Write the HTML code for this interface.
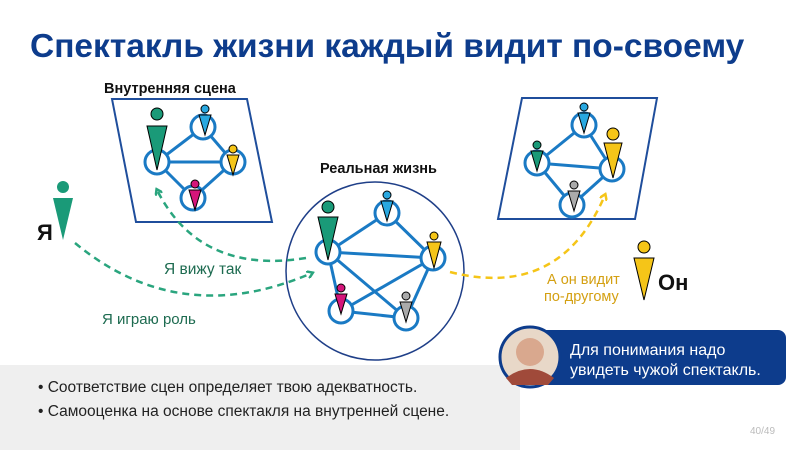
<!DOCTYPE html>
<html><head><meta charset="utf-8"><style>
body{margin:0;width:800px;height:450px;overflow:hidden;background:#fff;font-family:"Liberation Sans",sans-serif}
</style></head><body>
<svg width="800" height="450" viewBox="0 0 800 450" xmlns="http://www.w3.org/2000/svg" font-family="Liberation Sans, sans-serif">
<defs>
<marker id="ag" markerWidth="8" markerHeight="8" refX="5" refY="4" orient="auto" markerUnits="userSpaceOnUse"><path d="M0,0 L6,4 L0,8" fill="none" stroke="#2aa57e" stroke-width="2.5"/></marker>
<marker id="ay" markerWidth="8" markerHeight="8" refX="5" refY="4" orient="auto" markerUnits="userSpaceOnUse"><path d="M0,0 L6,4 L0,8" fill="none" stroke="#f5c518" stroke-width="2.5"/></marker>
</defs>
<text x="30" y="57" font-size="33.5" font-weight="bold" fill="#0d3c8c">Спектакль жизни каждый видит по-своему</text>

<rect x="0" y="365" width="520" height="85" fill="#efefef"/>
<text x="38" y="392" font-size="15.5" fill="#222">•  Соответствие сцен определяет твою адекватность.</text>
<text x="38" y="416" font-size="15.5" fill="#222">•  Самооценка на основе спектакля на внутренней сцене.</text>
<text x="750" y="434" font-size="10" fill="#bbb">40/49</text>

<!-- left scene -->
<text x="104" y="93" font-size="14.5" font-weight="bold" fill="#111">Внутренняя сцена</text>
<polygon points="112,99 247,99 272,222 136,222" fill="#fff" stroke="#1f4e9c" stroke-width="2"/>
<g stroke="#1a7ac4" stroke-width="3" fill="none">
<line x1="157" y1="162" x2="203" y2="127"/><line x1="157" y1="162" x2="233" y2="162"/><line x1="157" y1="162" x2="193" y2="198"/><line x1="203" y1="127" x2="233" y2="162"/><line x1="233" y1="162" x2="193" y2="198"/>
</g>
<g stroke="#1a7ac4" stroke-width="3" fill="#fff">
<circle cx="157" cy="162" r="12"/><circle cx="203" cy="127" r="12"/><circle cx="233" cy="162" r="12"/><circle cx="193" cy="198" r="12"/>
</g>
<g stroke="#000" stroke-width="1">
<circle cx="157" cy="114" r="6" fill="#1a9a78"/><polygon points="147,126 167,126 157,170" fill="#1a9a78"/>
<circle cx="205" cy="109" r="4" fill="#29a8e0"/><polygon points="199,115 211,115 205,135" fill="#29a8e0"/>
<circle cx="233" cy="149" r="4" fill="#f5c518"/><polygon points="227,155 239,155 233,175" fill="#f5c518"/>
<circle cx="195" cy="184" r="4" fill="#d4157a"/><polygon points="189,190 201,190 195,210" fill="#d4157a"/>
</g>

<!-- middle -->
<text x="320" y="173" font-size="14.5" font-weight="bold" fill="#111">Реальная жизнь</text>
<circle cx="375" cy="271" r="89" fill="#fff" stroke="#1f3f88" stroke-width="1.5"/>
<g stroke="#1a7ac4" stroke-width="3">
<line x1="328" y1="252" x2="387" y2="213"/><line x1="328" y1="252" x2="433" y2="258"/><line x1="328" y1="252" x2="341" y2="311"/><line x1="328" y1="252" x2="406" y2="318"/><line x1="387" y1="213" x2="433" y2="258"/><line x1="433" y1="258" x2="341" y2="311"/><line x1="433" y1="258" x2="406" y2="318"/><line x1="341" y1="311" x2="406" y2="318"/>
</g>
<g stroke="#1a7ac4" stroke-width="3" fill="#fff">
<circle cx="328" cy="252" r="12"/><circle cx="387" cy="213" r="12"/><circle cx="433" cy="258" r="12"/><circle cx="341" cy="311" r="12"/><circle cx="406" cy="318" r="12"/>
</g>
<g stroke="#000" stroke-width="1">
<circle cx="328" cy="207" r="6" fill="#1a9a78"/><polygon points="318,217 338,217 328,260" fill="#1a9a78"/>
<circle cx="387" cy="195" r="4" fill="#29a8e0"/><polygon points="381,201 393,201 387,221" fill="#29a8e0"/>
<circle cx="434" cy="236" r="4" fill="#f5c518"/><polygon points="427,242 441,242 434,268" fill="#f5c518"/>
<circle cx="341" cy="288" r="4" fill="#d4157a"/><polygon points="335,294 347,294 341,314" fill="#d4157a"/>
<circle cx="406" cy="296" r="4" fill="#aaa"/><polygon points="400,302 412,302 406,322" fill="#aaa"/>
</g>

<!-- right scene -->
<polygon points="522,98 657,98 635,219 498,219" fill="#fff" stroke="#1f4e9c" stroke-width="2"/>
<g stroke="#1a7ac4" stroke-width="3">
<line x1="584" y1="125" x2="537" y2="163"/><line x1="584" y1="125" x2="612" y2="169"/><line x1="537" y1="163" x2="612" y2="169"/><line x1="537" y1="163" x2="572" y2="205"/><line x1="572" y1="205" x2="612" y2="169"/>
</g>
<g stroke="#1a7ac4" stroke-width="3" fill="#fff">
<circle cx="584" cy="125" r="12"/><circle cx="537" cy="163" r="12"/><circle cx="612" cy="169" r="12"/><circle cx="572" cy="205" r="12"/>
</g>
<g stroke="#000" stroke-width="1">
<circle cx="584" cy="107" r="4" fill="#29a8e0"/><polygon points="578,113 590,113 584,133" fill="#29a8e0"/>
<circle cx="537" cy="145" r="4" fill="#1a9a78"/><polygon points="531,151 543,151 537,171" fill="#1a9a78"/>
<circle cx="613" cy="134" r="6" fill="#f5c518"/><polygon points="604,143 622,143 613,178" fill="#f5c518"/>
<circle cx="574" cy="185" r="4" fill="#aaa"/><polygon points="568,191 580,191 574,211" fill="#aaa"/>
</g>

<!-- Я -->
<circle cx="63" cy="187" r="6" fill="#1a9a78"/><polygon points="53,198 73,198 63,240" fill="#1a9a78"/>
<text x="37" y="240" font-size="22" font-weight="bold" fill="#111">Я</text>
<!-- Он -->
<circle cx="644" cy="247" r="6" fill="#f5c518" stroke="#000"/><polygon points="634,258 654,258 644,300" fill="#f5c518" stroke="#000"/>
<text x="658" y="290" font-size="22" font-weight="bold" fill="#111">Он</text>

<!-- arrows -->
<path d="M75,243 Q180,330 312,273" fill="none" stroke="#2aa57e" stroke-width="2.5" stroke-dasharray="7,5" marker-end="url(#ag)"/>
<path d="M306,258 Q200,275 157,190" fill="none" stroke="#2aa57e" stroke-width="2.5" stroke-dasharray="7,5" marker-end="url(#ag)"/>
<path d="M450,272 Q560,300 605,195" fill="none" stroke="#f5c518" stroke-width="2.5" stroke-dasharray="7,5" marker-end="url(#ay)"/>
<text x="164" y="274" font-size="15.5" fill="#1d6b50">Я вижу так</text>
<text x="102" y="324" font-size="15" fill="#1d6b50">Я играю роль</text>
<text x="547" y="284" font-size="14.5" fill="#d4a012">А он видит</text>
<text x="544" y="301" font-size="14.5" fill="#d4a012">по-другому</text>

<!-- callout -->
<rect x="530" y="330" width="256" height="55" rx="8" fill="#0d3c8c"/>
<circle cx="530" cy="357" r="30" fill="#e8d8c8" stroke="#0d3c8c" stroke-width="3"/>
<circle cx="530" cy="352" r="14" fill="#d9a88e"/>
<path d="M506,378 Q530,360 554,378 L548,385 L512,385Z" fill="#a04a3a"/>
<text x="570" y="355" font-size="16" fill="#fff">Для понимания надо</text>
<text x="570" y="375" font-size="16" fill="#fff">увидеть чужой спектакль.</text>
</svg>
</body></html>
